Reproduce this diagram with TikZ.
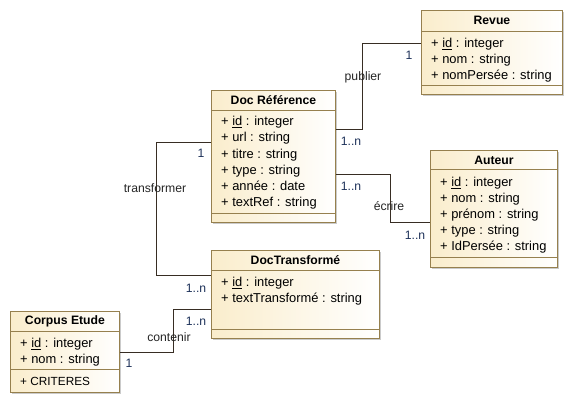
\documentclass[tikz,border=0pt]{standalone}
\usepackage{fontspec}
\setmainfont{Liberation Sans}
\usetikzlibrary{calc,shadows}
\definecolor{clsborder}{RGB}{150,128,78}
\definecolor{clsfill}{RGB}{250,237,204}
\definecolor{multc}{RGB}{30,50,90}
\definecolor{linec}{RGB}{55,45,35}
\tikzset{
  cls/.style={draw=clsborder, line width=0.9pt, left color=clsfill, right color=white,
    inner sep=0pt, anchor=north west,
    drop shadow={shadow xshift=1.6pt, shadow yshift=-1.6pt, fill=black!40, opacity=0.5}},
  sepline/.style={draw=clsborder, line width=0.9pt},
  ctitle/.style={font=\fontsize{12.2}{14}\selectfont\bfseries, inner sep=0pt, text height=8.6pt, text depth=0pt},
  attr/.style={font=\fontsize{12.9}{15}\selectfont, anchor=west, inner sep=0pt, text height=9.2pt, text depth=0pt},
  assoc/.style={draw=linec, line width=0.8pt},
  mult/.style={font=\fontsize{12.2}{14}\selectfont, text=multc, inner sep=0pt, text height=8.6pt, text depth=0pt},
  aname/.style={font=\fontsize{12.2}{14}\selectfont, text=black!85, inner sep=0pt, text height=8.6pt, text depth=0pt},
}
\begin{document}
\begin{tikzpicture}[x=1pt,y=-1pt]
\useasboundingbox[fill=white] (0,0) rectangle (573,404);

% ---------- Revue ----------
\node[cls, minimum width=141pt, minimum height=84pt] (revue) at (421,10) {};
\draw[sepline] ($(revue.north west)+(0,21)$) -- ($(revue.north east)+(0,21)$);
\draw[sepline] ($(revue.north west)+(0,75)$) -- ($(revue.north east)+(0,75)$);
\node[ctitle] (revuet) at ($(revue.north)+(0,10.5)$) {Revue};
\node[attr] (revue1) at ($(revue.north west)+(10,33)$) {+ \underline{id} : integer};
\node[attr] (revue2) at ($(revue.north west)+(10,49)$) {+ nom : string};
\node[attr] (revue3) at ($(revue.north west)+(10,65)$) {+ nomPersée : string};

% ---------- Doc Référence ----------
\node[cls, minimum width=124pt, minimum height=132pt] (docref) at (211,90) {};
\draw[sepline] ($(docref.north west)+(0,20)$) -- ($(docref.north east)+(0,20)$);
\draw[sepline] ($(docref.north west)+(0,123)$) -- ($(docref.north east)+(0,123)$);
\node[ctitle] (docreft) at ($(docref.north)+(0,10)$) {Doc Référence};
\node[attr] (docref1) at ($(docref.north west)+(10,31)$) {+ \underline{id} : integer};
\node[attr] (docref2) at ($(docref.north west)+(10,47.2)$) {+ url : string};
\node[attr] (docref3) at ($(docref.north west)+(10,63.4)$) {+ titre : string};
\node[attr] (docref4) at ($(docref.north west)+(10,79.6)$) {+ type : string};
\node[attr] (docref5) at ($(docref.north west)+(10,95.8)$) {+ année : date};
\node[attr] (docref6) at ($(docref.north west)+(10,112)$) {+ textRef : string};

% ---------- Auteur ----------
\node[cls, minimum width=127pt, minimum height=117pt] (auteur) at (430,150) {};
\draw[sepline] ($(auteur.north west)+(0,19)$) -- ($(auteur.north east)+(0,19)$);
\draw[sepline] ($(auteur.north west)+(0,107)$) -- ($(auteur.north east)+(0,107)$);
\node[ctitle] (auteurt) at ($(auteur.north)+(0,10)$) {Auteur};
\node[attr] (auteur1) at ($(auteur.north west)+(10,32)$) {+ \underline{id} : integer};
\node[attr] (auteur2) at ($(auteur.north west)+(10,48)$) {+ nom : string};
\node[attr] (auteur3) at ($(auteur.north west)+(10,64)$) {+ prénom : string};
\node[attr] (auteur4) at ($(auteur.north west)+(10,80)$) {+ type : string};
\node[attr] (auteur5) at ($(auteur.north west)+(10,96)$) {+ IdPersée : string};

% ---------- DocTransformé ----------
\node[cls, minimum width=168pt, minimum height=88pt] (doct) at (211,250) {};
\draw[sepline] ($(doct.north west)+(0,20)$) -- ($(doct.north east)+(0,20)$);
\draw[sepline] ($(doct.north west)+(0,79)$) -- ($(doct.north east)+(0,79)$);
\node[ctitle] (doctt) at ($(doct.north)+(0,10)$) {DocTransformé};
\node[attr] (doct1) at ($(doct.north west)+(10,32)$) {+ \underline{id} : integer};
\node[attr] (doct2) at ($(doct.north west)+(10,48)$) {+ textTransformé : string};

% ---------- Corpus Etude ----------
\node[cls, minimum width=109pt, minimum height=81pt] (corpus) at (10,311) {};
\draw[sepline] ($(corpus.north west)+(0,20)$) -- ($(corpus.north east)+(0,20)$);
\draw[sepline] ($(corpus.north west)+(0,58)$) -- ($(corpus.north east)+(0,58)$);
\node[ctitle] (corpust) at ($(corpus.north)+(0,9.5)$) {Corpus Etude};
\node[attr] (corpus1) at ($(corpus.north west)+(10,31.7)$) {+ \underline{id} : integer};
\node[attr] (corpus2) at ($(corpus.north west)+(10,48)$) {+ nom : string};
\node[attr, font=\fontsize{11.8}{13}\selectfont] (corpus3) at ($(corpus.north west)+(10,70)$) {+ CRITERES};

% ---------- Associations ----------
% publier
\draw[assoc] ($(docref.north east)+(0,39)$) -- ++(26,0) |- ($(revue.north west)+(0,33)$);
\node[mult] (m1) at (409,55) {1};
\node[aname] (publier) at (363,76) {publier};
\node[mult] (m2) at (351,141) {1..n};
% ecrire
\draw[assoc] ($(docref.north east)+(0,84)$) -- ++(54,0) |- ($(auteur.north west)+(0,72)$);
\node[mult] (m3) at (351,186) {1..n};
\node[aname] (ecrire) at (389,206) {écrire};
\node[mult] (m4) at (415,235) {1..n};
% transformer
\draw[assoc] ($(docref.north west)+(0,52)$) -- ++(-55,0) |- ($(doct.north west)+(0,25)$);
\node[mult] (m5) at (201,153) {1};
\node[aname] (transformer) at (155,188) {transformer};
\node[mult] (m6) at (196,288) {1..n};
% contenir
\draw[assoc] ($(corpus.north east)+(0,41)$) -- ++(53,0) |- ($(doct.north west)+(0,59)$);
\node[mult] (m7) at (196,321) {1..n};
\node[aname] (contenir) at (169,337) {contenir};
\node[mult] (m8) at (129,363) {1};
\end{tikzpicture}
\end{document}
